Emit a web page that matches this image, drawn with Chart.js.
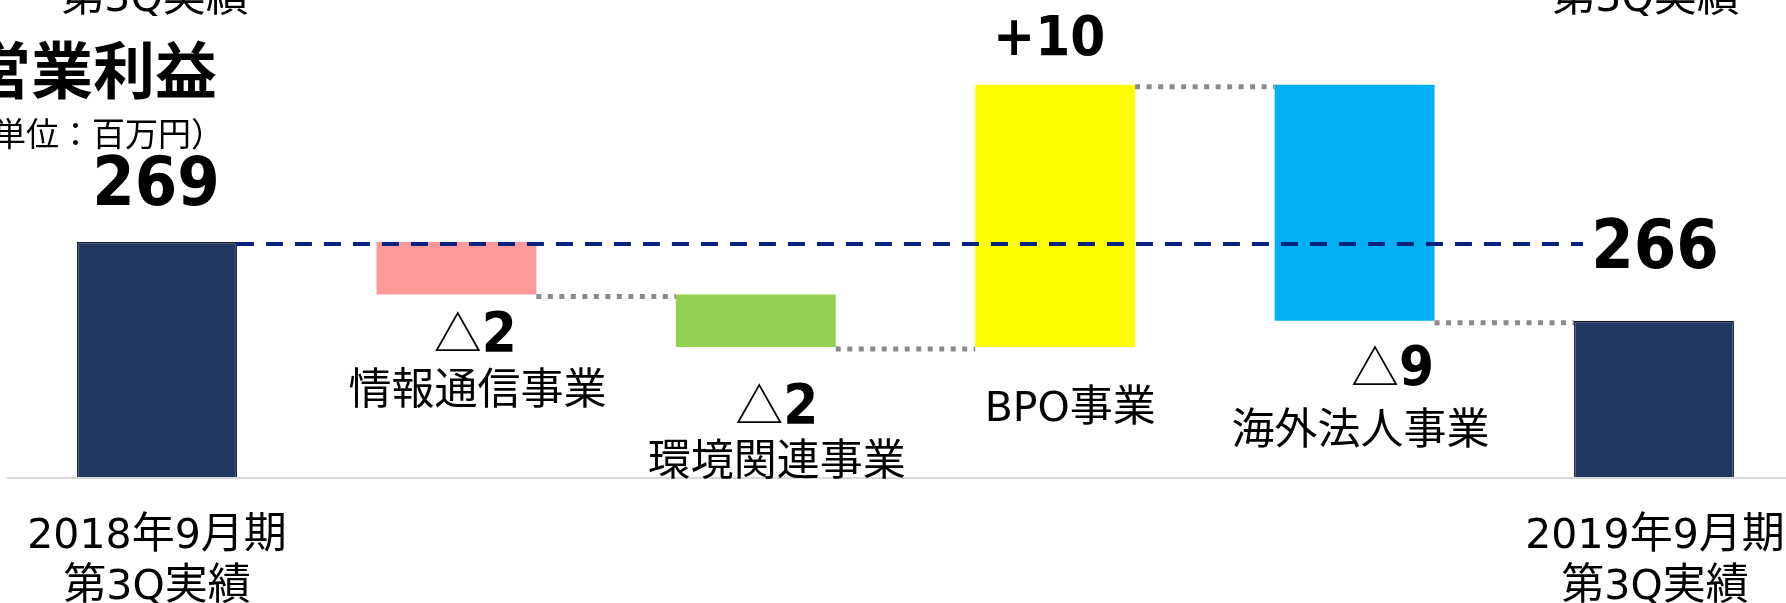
<!DOCTYPE html>
<html>
<head>
<meta charset="utf-8">
<script src="https://cdn.jsdelivr.net/npm/chart.js@4.4.1/dist/chart.umd.min.js"></script>
<style>
html,body{margin:0;padding:0;background:#fff;overflow:hidden}
#wrap{position:absolute;left:0;top:0;width:1786px;height:603px}
</style>
</head>
<body>
<div id="wrap"><canvas id="c"></canvas></div>
<script>
// ---- data ----
const categories = [['2018年9月期', '第3Q実績'], '情報通信事業', '環境関連事業', 'BPO事業', '海外法人事業', ['2019年9月期', '第3Q実績']];
const startValue = 269;
const deltas = [-2, -2, 10, -9];
const endValue = 266;
const valueLabels = ['269', '△2', '△2', '+10', '△9', '266'];
const titleText = '営業利益';
const unitText = '（単位：百万円）';
const croppedAboveText = '第3Q実績';
const axisMin = 260;
const axisMax = 278;

// ---- styles ----
const barColors = ['#223862', '#FF9999', '#92D050', '#FFFF00', '#00B0F0', '#223862'];
const borderColors = ['#10182a', 'rgba(0,0,0,0)', 'rgba(0,0,0,0)', 'rgba(0,0,0,0)', 'rgba(0,0,0,0)', '#10182a'];
const borderWidths = [1.5, 0, 0, 0, 0, 1.5];

// build floating bars & running levels from the values
const floating = [[axisMin, startValue]];
const levels = [startValue];
let lv = startValue;
deltas.forEach(d => {
  const nx = lv + d;
  floating.push([Math.min(lv, nx), Math.max(lv, nx)]);
  lv = nx;
  levels.push(lv);
});
floating.push([axisMin, endValue]);
levels.push(endValue);

const NUM_BIG = 'bold 68px "DejaVu Sans Condensed", "DejaVu Sans", sans-serif';
const NUM = 'bold 56px "DejaVu Sans Condensed", "DejaVu Sans", sans-serif';
const TRI = '48px "Noto Sans CJK JP", sans-serif';
const JP = '43px "Noto Sans CJK JP", sans-serif';
const LAT = '41px "DejaVu Sans", sans-serif';
const JP_TITLE = 'bold 62px "Noto Sans CJK JP", sans-serif';
const JP_UNIT = '33px "Noto Sans CJK JP", sans-serif';

// label placement (offset from bar centre, y in px)
const valuePlace = [
  {dx: -1, y: 205, big: true},
  {dx: 19, y: 351},
  {dx: 21, y: 423},
  {dx: -6, y: 55},
  {dx: 38, y: 385},
  {dx: 1, y: 268, big: true}
];
const namePlace = [null, {dx: 21, y: 387}, {dx: 21, y: 458}, {dx: 15, y: 404}, {dx: 6, y: 427}, null];

function drawMixed(ctx, parts, cx, baseline) {
  let w = 0;
  parts.forEach(p => { ctx.font = p.f; p.w = ctx.measureText(p.t).width; w += p.w; });
  let x = cx - w / 2;
  ctx.textAlign = 'left';
  ctx.textBaseline = 'alphabetic';
  parts.forEach(p => { ctx.font = p.f; ctx.fillText(p.t, x, baseline); x += p.w; });
}

// Japanese text with Latin/digit runs in a Verdana-like face, centred on cx, ink-centred on cy
function drawJP(ctx, text, cx, cy) {
  ctx.textBaseline = 'alphabetic';
  ctx.font = JP;
  const m = ctx.measureText('業');
  const baseline = cy + (m.actualBoundingBoxAscent - m.actualBoundingBoxDescent) / 2;
  const runs = text.match(/[\x00-\x7F]+|[^\x00-\x7F]+/g).map(t => ({t, f: /^[\x00-\x7F]/.test(t) ? LAT : JP}));
  drawMixed(ctx, runs, cx, baseline);
}

const overlay = {
  id: 'overlay',
  afterDatasetsDraw(chart) {
    const ctx = chart.ctx;
    const ys = chart.scales.y;
    const bars = chart.getDatasetMeta(0).data;
    const area = chart.chartArea;
    ctx.save();
    // baseline
    ctx.strokeStyle = '#d9d9d9';
    ctx.lineWidth = 2;
    ctx.beginPath();
    ctx.moveTo(7, area.bottom);
    ctx.lineTo(chart.width, area.bottom);
    ctx.stroke();

    // dotted connectors
    ctx.strokeStyle = '#8a8a8a';
    ctx.lineWidth = 5;
    ctx.setLineDash([5, 6.5]);
    for (let i = 1; i < bars.length - 1; i++) {
      const py = ys.getPixelForValue(levels[i]) + 2;
      const x0 = bars[i].x + bars[i].width / 2;
      const x1 = bars[i + 1].x - bars[i + 1].width / 2;
      ctx.beginPath();
      ctx.moveTo(x0, py);
      ctx.lineTo(x1, py);
      ctx.stroke();
    }

    // dashed reference line at the starting value
    ctx.strokeStyle = '#07237f';
    ctx.lineWidth = 4;
    ctx.setLineDash([17, 12]);
    const ry = ys.getPixelForValue(startValue) + 2;
    const last = bars[bars.length - 1];
    ctx.beginPath();
    ctx.moveTo(bars[0].x + bars[0].width / 2, ry);
    ctx.lineTo(last.x - last.width / 2 + 9, ry);
    ctx.stroke();
    ctx.setLineDash([]);

    ctx.fillStyle = '#000';
    // value labels
    valueLabels.forEach((s, i) => {
      const pl = valuePlace[i];
      const cx = bars[i].x + pl.dx;
      const parts = [];
      if (s.startsWith('△')) {
        parts.push({t: '△', f: TRI});
        parts.push({t: s.slice(1), f: NUM});
      } else {
        parts.push({t: s, f: pl.big ? NUM_BIG : NUM});
      }
      drawMixed(ctx, parts, cx, pl.y);
    });

    // category names near bars
    categories.forEach((c, i) => {
      const pl = namePlace[i];
      if (pl) drawJP(ctx, c, bars[i].x + pl.dx, pl.y);
    });
    // axis labels for first/last
    [0, categories.length - 1].forEach(i => {
      const lines = categories[i];
      lines.forEach((ln, k) => drawJP(ctx, ln, bars[i].x + (i === 0 ? 0 : 1), 531 + k * 51));
      // cropped label of the slide part above
      drawJP(ctx, croppedAboveText, bars[i].x - (i === 0 ? 2 : 8), -6);
    });

    // title & unit
    ctx.textBaseline = 'middle';
    ctx.font = JP_TITLE;
    ctx.textAlign = 'right';
    ctx.fillText(titleText, 217, 70);
    ctx.font = JP_UNIT;
    ctx.fillText(unitText, 224, 133);
    ctx.restore();
  }
};

new Chart(document.getElementById('c'), {
  type: 'bar',
  data: {
    labels: categories,
    datasets: [{
      data: floating,
      backgroundColor: barColors,
      borderColor: borderColors,
      borderWidth: borderWidths,
      borderSkipped: 'bottom',
      categoryPercentage: 1,
      barPercentage: 0.534,
      clip: false
    }]
  },
  options: {
    responsive: true,
    maintainAspectRatio: false,
    animation: false,
    layout: {padding: {left: 157, right: 132, top: 6, bottom: 125}},
    plugins: {legend: {display: false}, tooltip: {enabled: false}},
    scales: {
      x: {type: 'category', offset: false, display: false, grid: {display: false}},
      y: {min: axisMin, max: axisMax, display: false, grid: {display: false}}
    }
  },
  plugins: [overlay]
});
</script>
</body>
</html>
